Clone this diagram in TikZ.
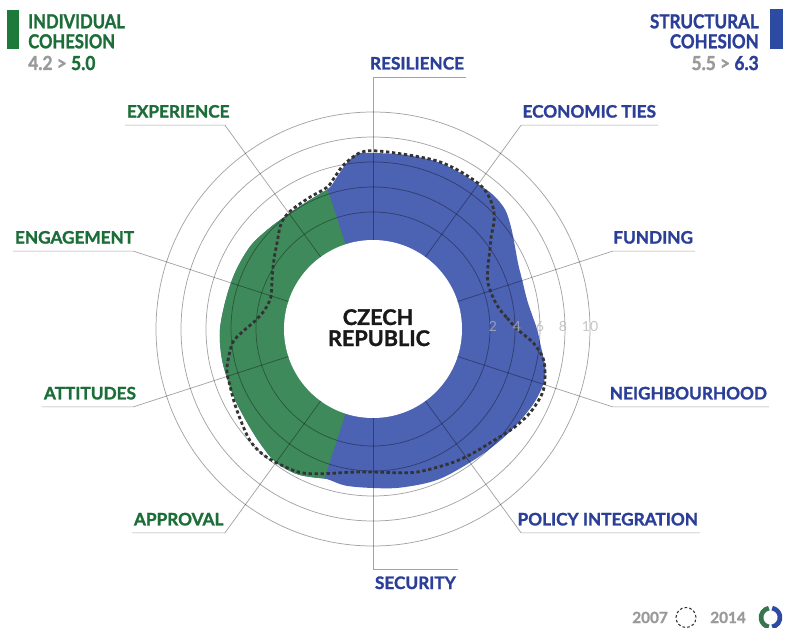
\documentclass[tikz,border=0pt]{standalone}
\usepackage{fontspec}
\usepackage{graphicx}
\setmainfont{Lato}[BoldFeatures={FakeBold=1.3}]
\usetikzlibrary{calc}
\definecolor{fgreen}{HTML}{3F8A5B}
\definecolor{fblue}{HTML}{4C62B2}
\definecolor{tgreen}{HTML}{1C6E38}
\definecolor{tblue}{HTML}{2B3F98}
\definecolor{bargreen}{HTML}{1E7A3B}
\definecolor{barblue}{HTML}{2E4BA3}
\definecolor{txtgray}{HTML}{9A9A9A}
\definecolor{dashgray}{HTML}{333333}
\begin{document}
\begin{tikzpicture}[x=0.75pt,y=0.75pt,
  gridline/.style={draw=black,draw opacity=0.36,line width=0.55pt},
  lab/.style={font=\bfseries\fontsize{12.9}{15}\selectfont,inner sep=0pt,outer xsep=1.5pt},
  glab/.style={lab,text=tgreen},
  blab/.style={lab,text=tblue},
  head/.style={font=\bfseries\fontsize{14.5}{16}\selectfont,inner sep=0pt},
  scalenum/.style={font=\fontsize{10.5}{12}\selectfont,text=black!30,text opacity=0.75,inner sep=0pt,anchor=base},
  foot/.style={font=\bfseries\fontsize{11.5}{13}\selectfont,text=txtgray,inner sep=0pt,anchor=base west},
  oldline/.style={draw=dashgray,line width=2.1pt,dash pattern=on 2.5pt off 2pt}
]
\useasboundingbox[fill=white] (-373,-299) rectangle (412,329);

% ---- 2014 shape: blue everywhere, green on the individual sector
\fill[fblue] plot[smooth cycle,tension=0.55] coordinates {
 (0:164) (10:157) (18:157) (24:159) (30:164) (36:171) (42:178) (48:180) (54:179)
 (62:179) (70:179) (80:177) (90:176) (95:176) (99:168) (103:157) (107:148)
 (112:145) (120:143) (129:143) (137:145) (146:148) (157:149) (168:150) (180:153)
 (190:154) (198:154) (207:155) (217:157) (226:161) (234:165) (242:164) (248:160)
 (253:157) (260:159) (270:159) (280:161) (293:164) (306:165) (316:168) (325:172)
 (335:177) (342:179) (347:177) (352:171) (356:167)};
\begin{scope}
 \clip (0,0) -- (108:400) -- (144:400) -- (180:400) -- (216:400) -- (252:400) -- cycle;
 \fill[fgreen] plot[smooth cycle,tension=0.55] coordinates {
 (0:164) (10:157) (18:157) (24:159) (30:164) (36:171) (42:178) (48:180) (54:179)
 (62:179) (70:179) (80:177) (90:176) (95:176) (99:168) (103:157) (107:148)
 (112:145) (120:143) (129:143) (137:145) (146:148) (157:149) (168:150) (180:153)
 (190:154) (198:154) (207:155) (217:157) (226:161) (234:165) (242:164) (248:160)
 (253:157) (260:159) (270:159) (280:161) (293:164) (306:165) (316:168) (325:172)
 (335:177) (342:179) (347:177) (352:171) (356:167)};
\end{scope}
\fill[white] (0,0) circle[radius=89];

% ---- rings
\foreach \r in {117,142,167,192,217} \draw[gridline] (0,0) circle[radius=\r];

% ---- spoke end points
\coordinate (eRes) at (90:252);
\coordinate (eEco) at (54:252);
\coordinate (eFun) at (18:252);
\coordinate (eNei) at (-18:252);
\coordinate (ePol) at (-54:252);
\coordinate (eSec) at (-90:240);
\coordinate (eApp) at (234:252);
\coordinate (eAtt) at (198:252);
\coordinate (eEng) at (162:252);
\coordinate (eExp) at (126:252);
\coordinate (sRes) at (90:89);
\coordinate (sEco) at (54:89);
\coordinate (sFun) at (18:89);
\coordinate (sNei) at (-18:89);
\coordinate (sPol) at (-54:89);
\coordinate (sSec) at (-90:89);
\coordinate (sApp) at (234:89);
\coordinate (sAtt) at (198:89);
\coordinate (sEng) at (162:89);
\coordinate (sExp) at (126:89);

% ---- labels
\node[blab,anchor=base east] (lRes) at (93,259.5) {RESILIENCE};
\node[blab,anchor=base east] (lEco) at (285,211.4) {ECONOMIC TIES};
\node[blab,anchor=base east] (lFun) at (322,85.4) {FUNDING};
\node[blab,anchor=base east] (lNei) at (396,-70.4) {NEIGHBOURHOOD};
\node[blab,anchor=base east] (lPol) at (327,-196.4) {POLICY INTEGRATION};
\node[blab,anchor=base west] (lSec) at (0,-260) {SECURITY};
\node[glab,anchor=base west] (lApp) at (-241,-196.4) {APPROVAL};
\node[glab,anchor=base west] (lAtt) at (-331,-70.4) {ATTITUDES};
\node[glab,anchor=base west] (lEng) at (-360,85.4) {ENGAGEMENT};
\node[glab,anchor=base west] (lExp) at (-248,211.4) {EXPERIENCE};

% ---- leaders
\draw[gridline] (sRes) -- (eRes) -- (eRes -| lRes.east);
\draw[gridline] (sEco) -- (eEco) -- (eEco -| lEco.east);
\draw[gridline] (sFun) -- (eFun) -- (eFun -| lFun.east);
\draw[gridline] (sNei) -- (eNei) -- (eNei -| lNei.east);
\draw[gridline] (sPol) -- (ePol) -- (ePol -| lPol.east);
\draw[gridline] (sSec) -- (eSec) -- (eSec -| lSec.east);
\draw[gridline] (sApp) -- (eApp) -- (eApp -| lApp.west);
\draw[gridline] (sAtt) -- (eAtt) -- (eAtt -| lAtt.west);
\draw[gridline] (sEng) -- (eEng) -- (eEng -| lEng.west);
\draw[gridline] (sExp) -- (eExp) -- (eExp -| lExp.west);

% ---- 2007 outline
\draw[oldline] plot[smooth cycle,tension=0.55] coordinates {
 (0:144) (5:134) (9:128) (15:124) (22:124) (28:130) (34:141) (38:150) (42:163)
 (46:172) (52:179) (60:180) (68:180) (76:178) (88:178) (94:177) (100:167)
 (104:157) (108:149) (116:146) (125:144) (131:140) (138:129) (144:122) (151:115)
 (157:110) (163:107) (170:110) (176:118) (181:130) (185:140) (190:146) (196:152)
 (202:154) (208:157) (215:161) (222:166) (228:167) (234:165) (243:161) (251:153)
 (261:145) (270:143) (280:146) (288:150) (300:155) (308:159) (318:165) (325:172)
 (332:178) (339:181) (344:179) (350:173) (355:161)};

% ---- scale numbers
\node[scalenum] (n2) at (120,-2.7) {2};
\node[scalenum] (n4) at (144,-2.7) {4};
\node[scalenum] (n6) at (167,-2.7) {6};
\node[scalenum] (n8) at (190,-2.7) {8};
\node[scalenum] (n10) at (217,-2.7) {10};

% ---- centre title
\node[font=\bfseries\fontsize{16.2}{20}\selectfont,text=black!90,inner sep=0pt,anchor=base] (t1) at (5,4) {CZECH};
\node[font=\bfseries\fontsize{16.2}{20}\selectfont,text=black!90,inner sep=0pt,anchor=base] (t2) at (6,-17) {REPUBLIC};

% ---- header left
\fill[bargreen] (-366,319) rectangle (-354,280);
\node[head,text=tgreen,anchor=base west] (h1) at (-345,300.7) {\scalebox{0.86}[1]{INDIVIDUAL}};
\node[head,text=tgreen,anchor=base west] (h2) at (-345,280.7) {\scalebox{0.86}[1]{COHESION}};
\node[head,anchor=base west] (h3) at (-345,259) {\scalebox{0.9}[1]{\textcolor{txtgray}{4.2 >} \textcolor{tgreen}{5.0}}};
% ---- header right
\fill[barblue] (397,320) rectangle (410,280);
\node[head,text=tblue,anchor=base east] (h4) at (386,300.7) {\scalebox{0.88}[1]{STRUCTURAL}};
\node[head,text=tblue,anchor=base east] (h5) at (386,280.7) {\scalebox{0.88}[1]{COHESION}};
\node[head,anchor=base east] (h6) at (386,259) {\scalebox{0.9}[1]{\textcolor{txtgray}{5.5 >} \textcolor{tblue}{6.3}}};

% ---- footer legend
\node[foot] (f1) at (259,-294) {2007};
\draw[draw=dashgray,line width=0.8pt,dash pattern=on 2pt off 1.6pt] (313,-288.5) circle[radius=10];
\node[foot] (f2) at (337,-294) {2014};
\draw[fgreen!85!black,line width=3.5] (397.5,-288.5) ++(100:9.5) arc[start angle=100,end angle=260,radius=9.5];
\draw[barblue,line width=3.5] (397.5,-288.5) ++(-80:9.5) arc[start angle=-80,end angle=80,radius=9.5];
\end{tikzpicture}
\end{document}
